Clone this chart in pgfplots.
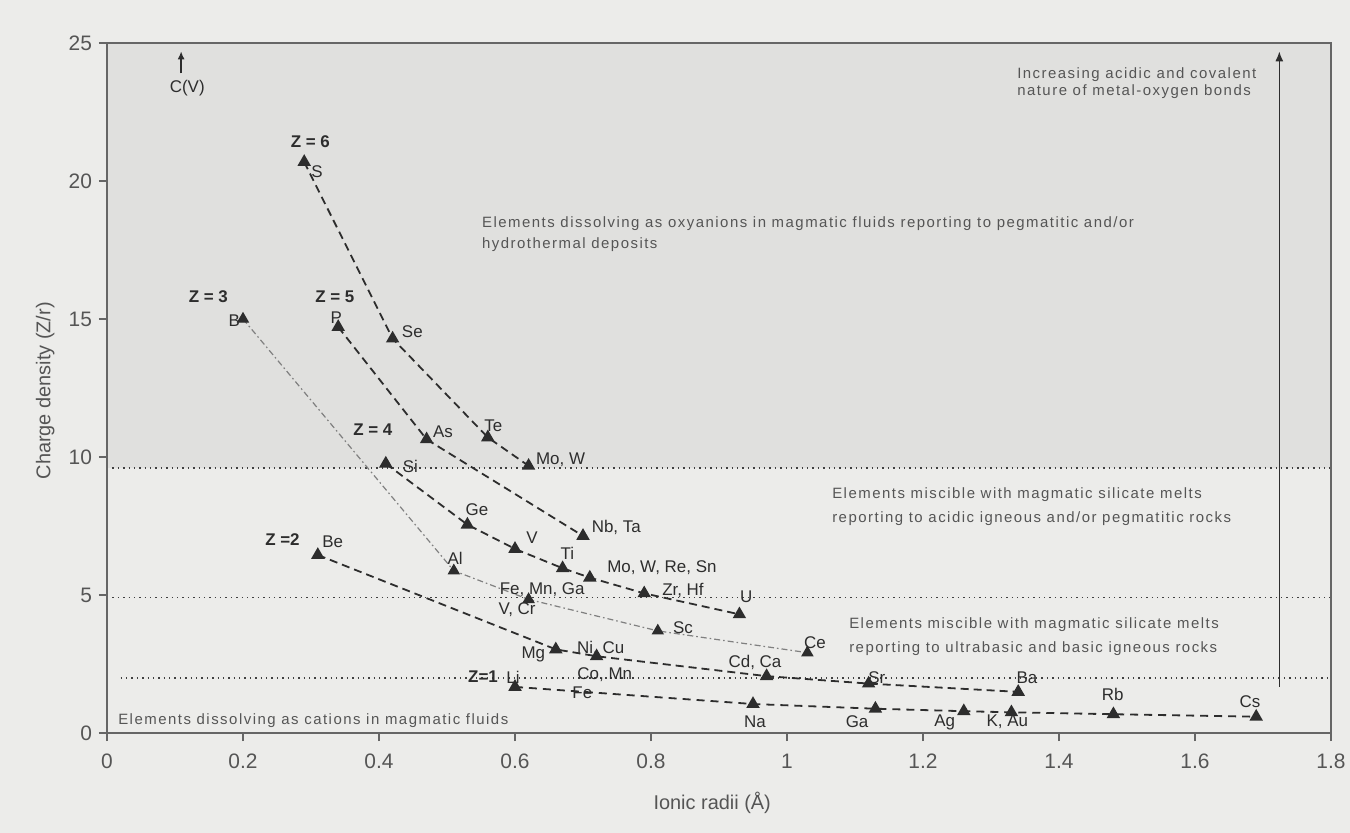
\documentclass[border=0pt]{standalone}
\usepackage{fontspec}
\setmainfont{Liberation Sans}
\newfontfamily\annot{Liberation Sans}[LetterSpace=10]
\usepackage{pgfplots}
\pgfplotsset{compat=1.18}
\usetikzlibrary{arrows.meta}
\definecolor{pagebg}{RGB}{236,236,234}
\definecolor{upbg}{RGB}{224,224,222}
\definecolor{ink}{RGB}{45,45,45}
\definecolor{txt}{RGB}{85,85,85}
\begin{document}
\begin{tikzpicture}[font=\fontsize{8.5}{10}\selectfont]
\useasboundingbox (-53.5bp,-50bp) rectangle (621.5bp,366.5bp);
\fill[pagebg] (-53.5bp,-50bp) rectangle (621.5bp,366.5bp);
\begin{axis}[at={(0,0)}, anchor=south west, scale only axis,
  width=612bp, height=345bp,
  xmin=0, xmax=1.8, ymin=0, ymax=25,
  xtick={0,0.2,0.4,0.6,0.8,1,1.2,1.4,1.6,1.8},
  ytick={0,5,10,15,20,25},
  tick align=outside, tick pos=left, major tick length=4bp,
  axis line style={black!60, line width=0.6bp},
  tick style={black!60, line width=0.6bp},
  ticklabel style={text=txt, font=\fontsize{10.5}{12}\selectfont},
  xticklabel style={yshift=-3bp},
  /pgf/number format/assume math mode=true,
  axis on top, clip=false,
  every axis plot/.append style={line width=0.9bp},
  mark options={solid, fill=ink, draw=ink},
]
% shaded oxyanion region
\fill[upbg] (axis cs:0,9.6) rectangle (axis cs:1.8,25);
% dotted boundaries
\draw[dotted, black!75, line width=0.7bp] (axis cs:0,9.6) -- (axis cs:1.8,9.6);
\draw[dotted, black!75, line width=0.7bp] (axis cs:0,4.9) -- (axis cs:1.8,4.9);
\draw[dotted, black!75, line width=0.7bp] (axis cs:0.02,2.0) -- (axis cs:1.8,2.0);

% Z = 6
\addplot[ink, dash pattern=on 4bp off 2.5bp, mark=triangle*, mark size=3bp]
  coordinates {(0.29,20.69) (0.42,14.29) (0.56,10.71) (0.62,9.68)};
% Z = 5
\addplot[ink, dash pattern=on 4bp off 2.5bp, mark=triangle*, mark size=3bp]
  coordinates {(0.34,14.71) (0.47,10.64) (0.70,7.14)};
% Z = 4
\addplot[ink, dash pattern=on 4bp off 2.5bp, mark=triangle*, mark size=3bp]
  coordinates {(0.41,9.76) (0.53,7.55) (0.60,6.67) (0.67,5.97) (0.71,5.63) (0.79,5.06) (0.93,4.30)};
% Z = 3
\addplot[black!50, line width=0.6bp, dash pattern=on 3bp off 1.5bp on 0.8bp off 1.5bp, mark=triangle*, mark size=3bp]
  coordinates {(0.20,15.0) (0.51,5.88) (0.62,4.84) (0.81,3.70) (1.03,2.91)};
% Z = 2
\addplot[ink, dash pattern=on 4bp off 2.5bp, mark=triangle*, mark size=3bp]
  coordinates {(0.31,6.45) (0.66,3.03) (0.72,2.78) (0.97,2.06) (1.12,1.79) (1.34,1.49)};
% Z = 1
\addplot[ink, dash pattern=on 4bp off 3bp, mark=triangle*, mark size=3bp]
  coordinates {(0.60,1.67) (0.95,1.05) (1.13,0.88) (1.26,0.79) (1.33,0.75) (1.48,0.68) (1.69,0.59)};

% Z labels
\begin{scope}[every node/.style={text=ink, font=\fontsize{8.5}{10}\selectfont\bfseries}]
\node at (axis cs:0.299,21.41) {Z = 6};
\node at (axis cs:0.149,15.80) {Z = 3};
\node at (axis cs:0.335,15.80) {Z = 5};
\node at (axis cs:0.391,10.98) {Z = 4};
\node at (axis cs:0.258,6.99) {Z =2};
\node at (axis cs:0.553,2.03) {Z=1};
\end{scope}

% element labels
\begin{scope}[every node/.style={text=ink, font=\fontsize{8.5}{10}\selectfont, inner sep=0pt}]
\node at (axis cs:0.309,20.33) {S};
\node at (axis cs:0.449,14.53) {Se};
\node at (axis cs:0.568,11.12) {Te};
\node at (axis cs:0.667,9.89) {Mo, W};
\node at (axis cs:0.187,14.93) {B};
\node at (axis cs:0.337,15.04) {P};
\node at (axis cs:0.494,10.90) {As};
\node at (axis cs:0.446,9.64) {Si};
\node at (axis cs:0.544,8.08) {Ge};
\node at (axis cs:0.625,7.07) {V};
\node at (axis cs:0.677,6.52) {Ti};
\node at (axis cs:0.816,5.98) {Mo, W, Re, Sn};
\node at (axis cs:0.847,5.18) {Zr, Hf};
\node at (axis cs:0.940,4.93) {U};
\node at (axis cs:0.749,7.46) {Nb, Ta};
\node at (axis cs:0.512,6.34) {Al};
\node at (axis cs:0.640,5.18) {Fe, Mn, Ga};
\node at (axis cs:0.603,4.46) {V, Cr};
\node at (axis cs:0.847,3.80) {Sc};
\node at (axis cs:1.041,3.26) {Ce};
\node at (axis cs:0.332,6.92) {Be};
\node at (axis cs:0.627,2.83) {Mg};
\node at (axis cs:0.726,3.08) {Ni, Cu};
\node at (axis cs:0.732,2.10) {Co, Mn};
\node at (axis cs:0.953,2.57) {Cd, Ca};
\node at (axis cs:1.132,1.99) {Sr};
\node at (axis cs:1.353,1.99) {Ba};
\node at (axis cs:1.479,1.38) {Rb};
\node at (axis cs:1.681,1.12) {Cs};
\node at (axis cs:1.324,0.40) {K, Au};
\node at (axis cs:1.232,0.40) {Ag};
\node at (axis cs:1.103,0.40) {Ga};
\node at (axis cs:0.953,0.40) {Na};
\node at (axis cs:0.699,1.45) {Fe};
\node at (axis cs:0.597,2.03) {Li};
\node at (axis cs:0.118,23.37) {C(V)};
\end{scope}

% arrows
\draw[ink, line width=0.8bp, -{Latex[length=4bp,width=3.5bp]}] (axis cs:0.109,23.9) -- (axis cs:0.109,24.7);
\draw[ink, line width=0.8bp, -{Latex[length=5bp,width=4bp]}] (axis cs:1.724,1.67) -- (axis cs:1.724,24.7);

% region annotations
\begin{scope}[every node/.style={text=txt, font=\annot\fontsize{7.5}{9}\selectfont, inner sep=0pt, anchor=base west}]
\node at (axis cs:0.551,18.33) {Elements dissolving as oxyanions in magmatic fluids reporting to pegmatitic and/or};
\node at (axis cs:0.551,17.57) {hydrothermal deposits};
\node at (axis cs:1.338,23.73) {Increasing acidic and covalent};
\node at (axis cs:1.338,23.10) {nature of metal-oxygen bonds};
\node at (axis cs:1.066,8.51) {Elements miscible with magmatic silicate melts};
\node at (axis cs:1.066,7.64) {reporting to acidic igneous and/or pegmatitic rocks};
\node at (axis cs:1.091,3.80) {Elements miscible with magmatic silicate melts};
\node at (axis cs:1.091,2.93) {reporting to ultrabasic and basic igneous rocks};
\node at (axis cs:0.016,0.29) {Elements dissolving as cations in magmatic fluids};
\end{scope}

% axis labels
\node[rotate=90, text=txt, font=\fontsize{10}{12}\selectfont] at (axis cs:-0.091,12.4) {Charge density (Z/r)};
\node[text=txt, font=\fontsize{10}{12}\selectfont] at (axis cs:0.89,-2.54) {Ionic radii (Å)};
\end{axis}
\end{tikzpicture}
\end{document}
